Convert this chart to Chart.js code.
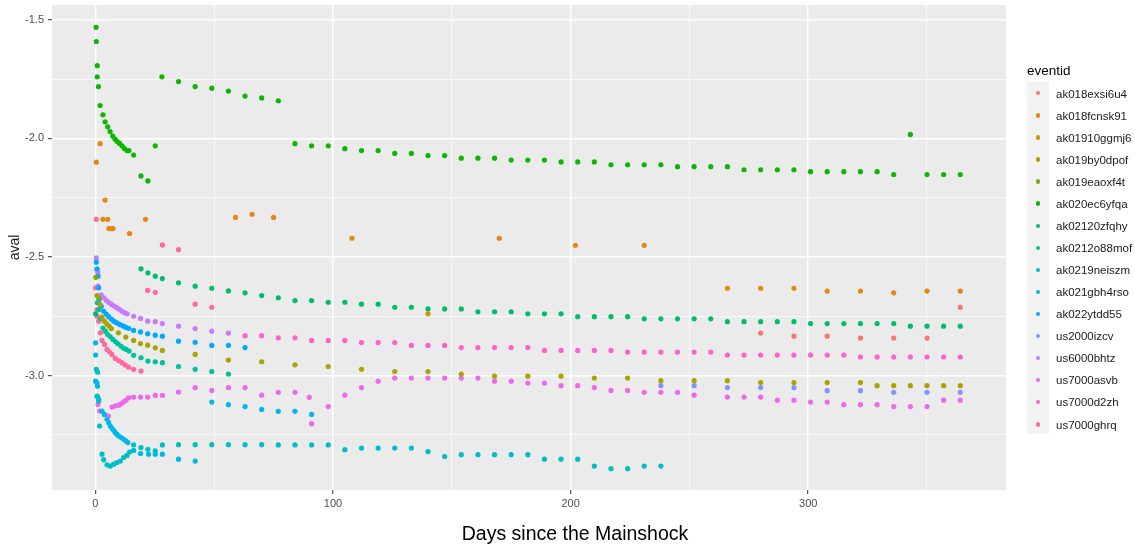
<!DOCTYPE html>
<html>
<head>
<meta charset="utf-8">
<script src="https://cdn.jsdelivr.net/npm/chart.js@4.4.0/dist/chart.umd.min.js"></script>
<style>
  html, body { margin: 0; padding: 0; background: #fff; }
  #wrap { position: relative; width: 1135px; height: 546px; overflow: hidden; font-family: "Liberation Sans", Arial, sans-serif; }
  #chart { position: absolute; left: 0; top: 0; }
  #xtitle { position: absolute; left: 575px; top: 524px; transform: translateX(-50%); font-size: 19.5px; line-height: 1; color: #000; white-space: nowrap; }
  #legendTitle { position: absolute; left: 1027px; top: 64px; font-size: 13.5px; line-height: 1; color: #000; }
  #legendKeys { position: absolute; left: 1027px; top: 82px; width: 22px; height: 352px; background: #F2F2F2; }
  .lg-dot { position: absolute; width: 4.4px; height: 4.4px; border-radius: 50%; }
  .lg-label { position: absolute; left: 1056px; font-size: 11.5px; line-height: 1; color: #1a1a1a; white-space: nowrap; }
</style>
</head>
<body>
<div id="wrap">
  <canvas id="chart" width="1135" height="546"></canvas>
  <div id="xtitle">Days since the Mainshock</div>
  <div id="legendTitle">eventid</div>
  <div id="legendKeys"></div>
</div>
<script>
// tick positions
const xMajor = [0, 100, 200, 300];
const xMinor = [50, 150, 250, 350];
const yMajor = [-3.0, -2.5, -2.0, -1.5];
const yMinor = [-3.25, -2.75, -2.25, -1.75];

// [day, aval], one array per event
const ak018exsi6u4 = [[280,-2.821],[294,-2.834],[308,-2.834],[322,-2.842],[336,-2.842],[350,-2.842],[364,-2.712]];
const ak018fcnsk91 = [[0.4,-2.100],[2.0,-2.022],[3.2,-2.341],[4.1,-2.260],[5.2,-2.341],[5.7,-2.380],[6.7,-2.380],[7.4,-2.380],[14.4,-2.401],[21.1,-2.341],[59,-2.333],[66,-2.320],[75,-2.333],[108,-2.421],[170,-2.421],[202,-2.451],[231,-2.451],[266,-2.632],[280,-2.632],[294,-2.632],[308,-2.644],[322,-2.644],[336,-2.651],[350,-2.644],[364,-2.644]];
const ak01910ggmj6 = [[140,-2.740]];
const ak019by0dpof = [[0.7,-2.663],[2.0,-2.700],[2.8,-2.754],[3.8,-2.771],[4.8,-2.782],[5.8,-2.792],[6.7,-2.802],[9.7,-2.820],[12.8,-2.838],[16.1,-2.852],[19.0,-2.865],[22.0,-2.872],[25.2,-2.883],[28.2,-2.894],[42,-2.911],[56,-2.935],[70,-2.942],[84,-2.955],[98,-2.962],[112,-2.974],[126,-2.983],[140,-2.983],[154,-2.994],[168,-3.003],[182,-3.003],[196,-3.003],[210,-3.011],[224,-3.011],[238,-3.022],[252,-3.022],[266,-3.022],[280,-3.030],[294,-3.030],[308,-3.030],[322,-3.030],[329,-3.043],[336,-3.043],[343,-3.043],[350,-3.043],[357,-3.043],[364,-3.043]];
const ak019eaoxf4t = [[0.2,-2.586],[1.4,-2.672]];
const ak020ec6yfqa = [[0.3,-1.531],[0.4,-1.591],[0.8,-1.693],[0.8,-1.740],[1.3,-1.781],[2.0,-1.861],[3.2,-1.900],[4.1,-1.930],[5.2,-1.951],[6.2,-1.971],[7.3,-1.990],[8.3,-2.003],[9.2,-2.013],[10.2,-2.021],[11.2,-2.031],[12.2,-2.042],[13.3,-2.051],[14.1,-2.051],[16.1,-2.070],[19.2,-2.158],[22.1,-2.179],[25.2,-2.031],[28,-1.740],[35,-1.760],[42,-1.781],[49,-1.788],[56,-1.800],[63,-1.821],[70,-1.829],[77,-1.841],[84,-2.022],[91,-2.031],[98,-2.031],[105,-2.043],[112,-2.051],[119,-2.051],[126,-2.063],[133,-2.063],[140,-2.072],[147,-2.072],[154,-2.083],[161,-2.083],[168,-2.083],[175,-2.091],[182,-2.091],[189,-2.091],[196,-2.099],[203,-2.099],[210,-2.099],[217,-2.111],[224,-2.111],[231,-2.111],[238,-2.111],[245,-2.119],[252,-2.119],[259,-2.119],[266,-2.119],[273,-2.132],[280,-2.132],[287,-2.132],[294,-2.132],[301,-2.140],[308,-2.140],[315,-2.140],[322,-2.140],[329,-2.140],[336,-2.152],[343,-1.983],[350,-2.152],[357,-2.152],[364,-2.152]];
const ak02120zfqhy = [[0.1,-2.740],[19.2,-2.550],[22.1,-2.567],[25.2,-2.581],[28.2,-2.591],[35,-2.609],[42,-2.623],[49,-2.632],[56,-2.643],[63,-2.651],[70,-2.663],[77,-2.672],[84,-2.684],[91,-2.684],[98,-2.691],[105,-2.691],[112,-2.699],[119,-2.699],[126,-2.712],[133,-2.712],[140,-2.719],[147,-2.719],[154,-2.719],[161,-2.731],[168,-2.731],[175,-2.731],[182,-2.740],[189,-2.740],[196,-2.740],[203,-2.752],[210,-2.752],[217,-2.752],[224,-2.752],[231,-2.761],[238,-2.761],[245,-2.761],[252,-2.761],[259,-2.761],[266,-2.773],[273,-2.773],[280,-2.773],[287,-2.773],[294,-2.773],[301,-2.781],[308,-2.781],[315,-2.781],[322,-2.781],[329,-2.781],[336,-2.781],[343,-2.792],[350,-2.792],[357,-2.792],[364,-2.792]];
const ak0212o88mof = [[0.8,-2.693],[1.5,-2.722],[2.2,-2.760],[3.2,-2.800],[4.2,-2.813],[5.2,-2.827],[6.3,-2.837],[7.4,-2.848],[8.5,-2.858],[9.5,-2.866],[10.8,-2.876],[11.9,-2.885],[13.0,-2.890],[14.2,-2.897],[16.1,-2.915],[19.2,-2.925],[22.1,-2.939],[25.2,-2.942],[28.2,-2.946],[35,-2.962],[42,-2.974],[49,-2.983],[56,-2.994]];
const ak0219neiszm = [[0.4,-2.974],[0.9,-2.986],[0.7,-3.087],[1.4,-3.108],[1.8,-3.213],[2.8,-3.332],[3.5,-3.355],[4.9,-3.377],[6.3,-3.382],[7.7,-3.374],[9.1,-3.367],[10.5,-3.361],[11.9,-3.346],[13.3,-3.337],[14.4,-3.323],[16.1,-3.293],[19.2,-3.304],[22.1,-3.311],[25.2,-3.318],[28.2,-3.293],[35,-3.292],[42,-3.292],[49,-3.292],[56,-3.292],[63,-3.292],[70,-3.292],[77,-3.293],[84,-3.293],[91,-3.293],[98,-3.293],[105,-3.313],[112,-3.306],[119,-3.306],[126,-3.306],[133,-3.306],[140,-3.321],[147,-3.342],[154,-3.334],[161,-3.334],[168,-3.334],[175,-3.334],[182,-3.334],[189,-3.353],[196,-3.353],[203,-3.353],[210,-3.382],[217,-3.393],[224,-3.393],[231,-3.382],[238,-3.382]];
const ak021gbh4rso = [[0.1,-2.862],[0.1,-2.914],[0.1,-3.024],[0.7,-3.031],[0.9,-3.045],[1.0,-3.091],[1.4,-3.101],[2.8,-3.150],[3.8,-3.164],[4.9,-3.185],[5.6,-3.199],[6.3,-3.213],[7.0,-3.223],[7.7,-3.231],[8.4,-3.241],[9.1,-3.248],[9.8,-3.255],[10.9,-3.262],[11.9,-3.269],[12.9,-3.276],[13.7,-3.283],[16.1,-3.316],[19.0,-3.329],[22.4,-3.332],[25.2,-3.332],[28.2,-3.332],[35,-3.353],[42,-3.361],[49,-3.112],[56,-3.123],[63,-3.131],[70,-3.143],[77,-3.151],[84,-3.151],[91,-3.164]];
const ak022ytdd55 = [[0.4,-2.522],[0.7,-2.550],[1.1,-2.581],[1.4,-2.630],[1.6,-2.679],[2.5,-2.708],[3.5,-2.729],[4.6,-2.741],[5.6,-2.752],[6.7,-2.762],[7.7,-2.771],[8.7,-2.776],[9.8,-2.782],[10.8,-2.787],[11.9,-2.792],[12.9,-2.797],[14.0,-2.801],[16.1,-2.810],[19.0,-2.816],[22.0,-2.824],[25.2,-2.830],[28.2,-2.834],[35,-2.855],[42,-2.860],[49,-2.873],[56,-2.873],[63,-2.882]];
const us2000izcv = [[238,-3.043],[252,-3.043],[266,-3.051],[280,-3.051],[294,-3.051],[308,-3.064],[322,-3.064],[336,-3.071],[350,-3.071],[364,-3.071]];
const us6000bhtz = [[0.4,-2.504],[0.7,-2.553],[1.0,-2.564],[1.1,-2.623],[2.5,-2.660],[3.6,-2.672],[4.6,-2.684],[5.7,-2.692],[6.8,-2.700],[7.9,-2.707],[9.0,-2.714],[10.1,-2.721],[11.2,-2.729],[12.3,-2.735],[13.4,-2.740],[16.1,-2.750],[19.0,-2.759],[22.0,-2.771],[25.2,-2.773],[28.2,-2.781],[35,-2.792],[42,-2.802],[49,-2.813],[56,-2.821]];
const us7000asvb = [[1.1,-3.122],[1.8,-3.150],[5.5,-3.171],[7.0,-3.133],[8.4,-3.128],[9.8,-3.125],[10.9,-3.119],[11.9,-3.111],[12.9,-3.104],[14.0,-3.094],[16.1,-3.091],[19.0,-3.091],[22.0,-3.091],[25.2,-3.084],[28.2,-3.084],[35,-3.070],[42,-3.051],[49,-3.063],[56,-3.051],[63,-3.051],[70,-3.083],[77,-3.071],[84,-3.071],[90,-3.092],[91,-3.203],[98,-3.131],[105,-3.083],[112,-3.051],[119,-3.024],[126,-3.011],[133,-3.011],[140,-3.011],[147,-3.011],[154,-3.011],[161,-3.011],[168,-3.024],[175,-3.024],[182,-3.032],[189,-3.032],[196,-3.043],[203,-3.043],[210,-3.051],[217,-3.063],[224,-3.063],[231,-3.071],[238,-3.071],[245,-3.071],[252,-3.083],[266,-3.091],[273,-3.091],[280,-3.091],[287,-3.104],[294,-3.104],[301,-3.112],[308,-3.112],[315,-3.123],[322,-3.123],[329,-3.123],[336,-3.131],[343,-3.131],[350,-3.131],[357,-3.104],[364,-3.104]];
const us7000d2zh = [[63,-2.832],[70,-2.832],[77,-2.841],[84,-2.841],[91,-2.852],[98,-2.852],[105,-2.852],[112,-2.861],[119,-2.861],[126,-2.861],[133,-2.873],[140,-2.873],[147,-2.873],[154,-2.882],[161,-2.882],[168,-2.882],[175,-2.882],[182,-2.882],[189,-2.894],[196,-2.894],[203,-2.894],[210,-2.894],[217,-2.894],[224,-2.901],[231,-2.901],[238,-2.901],[245,-2.901],[252,-2.901],[259,-2.901],[266,-2.914],[273,-2.914],[280,-2.914],[287,-2.914],[294,-2.914],[301,-2.914],[308,-2.914],[315,-2.914],[322,-2.922],[329,-2.922],[336,-2.922],[343,-2.922],[350,-2.922],[357,-2.922],[364,-2.922]];
const us7000ghrq = [[0.4,-2.341],[0.1,-2.630],[0.7,-2.722],[0.7,-2.750],[1.4,-2.771],[2.1,-2.820],[2.8,-2.852],[3.9,-2.869],[4.9,-2.890],[5.9,-2.900],[7.0,-2.911],[8.4,-2.928],[9.8,-2.937],[11.2,-2.946],[12.6,-2.956],[14.0,-2.965],[16.1,-2.974],[19.2,-2.981],[22.0,-2.641],[25.2,-2.649],[28.2,-2.449],[35,-2.469],[42,-2.699],[49,-2.712]];

const eventIds = ['ak018exsi6u4','ak018fcnsk91','ak01910ggmj6','ak019by0dpof','ak019eaoxf4t','ak020ec6yfqa','ak02120zfqhy','ak0212o88mof','ak0219neiszm','ak021gbh4rso','ak022ytdd55','us2000izcv','us6000bhtz','us7000asvb','us7000d2zh','us7000ghrq'];
const eventSeries = [ak018exsi6u4, ak018fcnsk91, ak01910ggmj6, ak019by0dpof, ak019eaoxf4t, ak020ec6yfqa, ak02120zfqhy, ak0212o88mof, ak0219neiszm, ak021gbh4rso, ak022ytdd55, us2000izcv, us6000bhtz, us7000asvb, us7000d2zh, us7000ghrq];
const eventColors = ['#F8766D','#E68613','#CD9600','#ABA300','#7CAE00','#0CB702','#00BE67','#00C19A','#00BFC4','#00B8E7','#00A9FF','#8494FF','#C77CFF','#ED68ED','#FF61CC','#FF68A1'];

const panelBg = {
  id: 'panelBg',
  beforeDraw(chart) {
    const { ctx, chartArea: a } = chart;
    ctx.save();
    ctx.fillStyle = '#EBEBEB';
    ctx.fillRect(a.left, a.top, a.right - a.left, a.bottom - a.top);
    ctx.restore();
  }
};

const isMajor = (list, v) => list.some(m => Math.abs(m - v) < 1e-9);

const gridFor = (major) => ({
  color: '#FFFFFF',
  lineWidth: (c) => (c.tick && isMajor(major, c.tick.value) ? 1.4 : 0.7),
  tickColor: (c) => (c.tick && isMajor(major, c.tick.value) ? '#333333' : 'rgba(0,0,0,0)'),
  tickLength: 4,
  tickWidth: 1
});

new Chart(document.getElementById('chart'), {
  type: 'scatter',
  data: {
    datasets: eventIds.map((id, i) => ({
      label: id,
      data: eventSeries[i].map(p => ({ x: p[0], y: p[1] })),
      backgroundColor: eventColors[i],
      borderWidth: 0,
      pointRadius: 2.6,
      pointHoverRadius: 2.6
    }))
  },
  options: {
    responsive: false,
    animation: false,
    layout: { padding: { top: 5, right: 129, left: 0, bottom: 0 } },
    plugins: { legend: { display: false }, tooltip: { enabled: false } },
    scales: {
      x: {
        type: 'linear',
        min: -18.25,
        max: 383.25,
        afterBuildTicks: (s) => { s.ticks = xMinor.concat(xMajor).sort((a, b) => a - b).map(v => ({ value: v })); },
        afterFit: (s) => { s.height = 56; s.paddingLeft = 0; s.paddingRight = 0; },
        ticks: {
          autoSkip: false,
          maxRotation: 0,
          padding: 3,
          color: '#4D4D4D',
          font: { family: '"Liberation Sans", Arial, sans-serif', size: 11 },
          callback: (v) => (isMajor(xMajor, v) ? String(v) : '')
        },
        grid: gridFor(xMajor),
        border: { display: false }
      },
      y: {
        type: 'linear',
        min: -3.483,
        max: -1.437,
        afterBuildTicks: (s) => { s.ticks = yMinor.concat(yMajor).sort((a, b) => a - b).map(v => ({ value: v })); },
        afterFit: (s) => { s.width = 52; s.paddingTop = 0; s.paddingBottom = 0; },
        title: {
          display: true,
          text: 'aval',
          color: '#1a1a1a',
          font: { family: '"Liberation Sans", Arial, sans-serif', size: 14 },
          padding: { top: 7, bottom: 0 }
        },
        ticks: {
          autoSkip: false,
          padding: 4,
          color: '#4D4D4D',
          font: { family: '"Liberation Sans", Arial, sans-serif', size: 11 },
          callback: (v) => (isMajor(yMajor, v) ? v.toFixed(1) : '')
        },
        grid: gridFor(yMajor),
        border: { display: false }
      }
    }
  },
  plugins: [panelBg]
});

// legend
const wrap = document.getElementById('wrap');
const keys = document.getElementById('legendKeys');
eventIds.forEach((id, i) => {
  const cy = 93.3 + i * 22.07;
  const dot = document.createElement('div');
  dot.className = 'lg-dot';
  dot.style.background = eventColors[i];
  dot.style.left = (1038.3 - 1027 - 2.2) + 'px';
  dot.style.top = (cy - 82 - 2.2) + 'px';
  keys.appendChild(dot);
  const lab = document.createElement('div');
  lab.className = 'lg-label';
  lab.textContent = id;
  lab.style.top = (cy - 4.8) + 'px';
  wrap.appendChild(lab);
});
</script>
</body>
</html>
